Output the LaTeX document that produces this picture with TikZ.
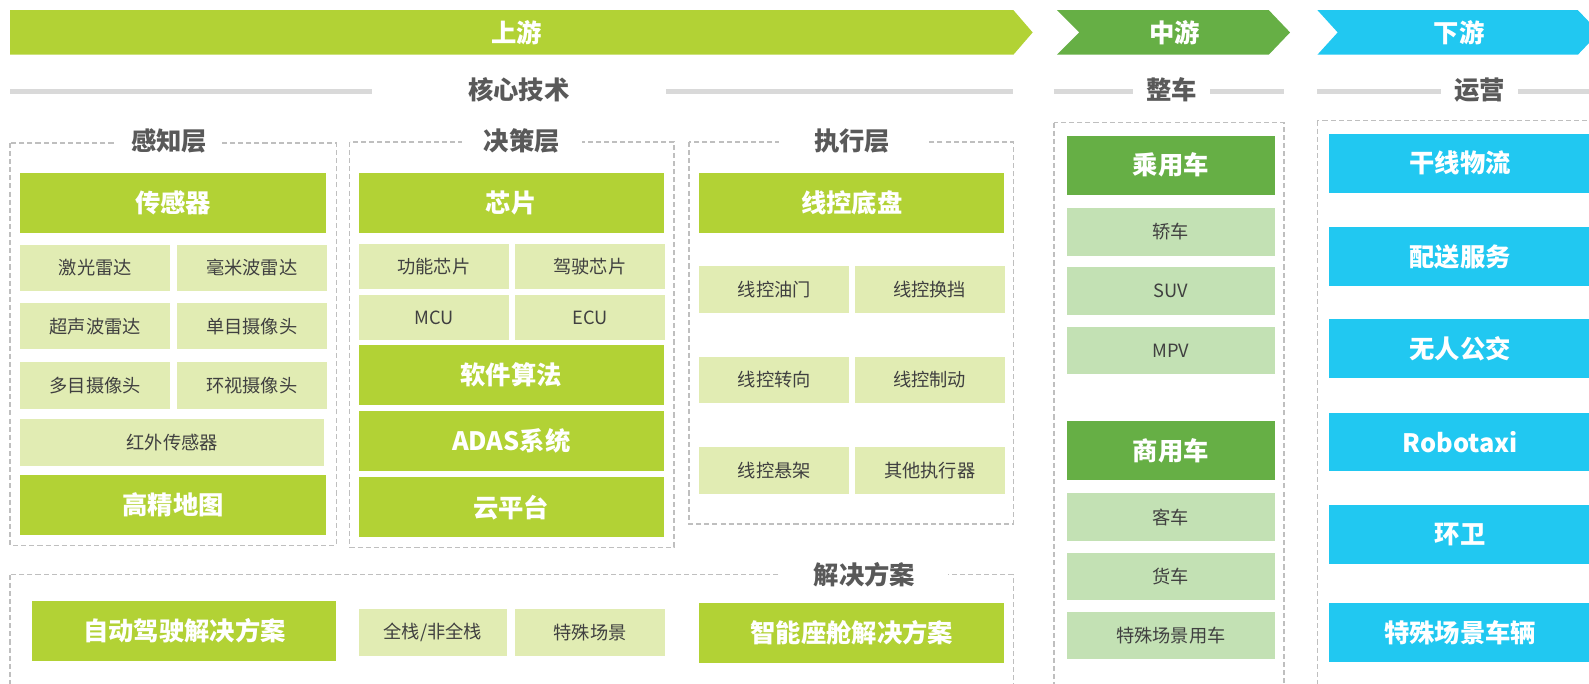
\documentclass[tikz,border=0pt]{standalone}
\usepackage{fontspec}
\setmainfont{Noto Sans CJK SC}
\usetikzlibrary{positioning}
\definecolor{upLime}{HTML}{B2D235}
\definecolor{upPale}{HTML}{E1ECB3}
\definecolor{midGreen}{HTML}{66AF45}
\definecolor{midPale}{HTML}{C3E1B4}
\definecolor{downCyan}{HTML}{21C8F1}
\definecolor{headGray}{HTML}{595959}
\definecolor{itemGray}{HTML}{404040}
\definecolor{frameGray}{HTML}{BFBFBF}
\definecolor{ruleGray}{HTML}{D9D9D9}

\begin{document}
\begin{tikzpicture}[x=1pt, y=-1pt,
  big/.style={font=\bfseries\fontsize{25}{25}\selectfont},
  small/.style={font=\fontsize{18}{18}\selectfont},
  stage/.style={big, text=white, inner sep=0pt},
  head/.style={big, text=headGray, fill=white, inner sep=0pt, inner xsep=15pt, minimum height=30pt},
  frame/.style={draw=frameGray, line width=1.3pt, dash pattern=on 5pt off 3pt},
  rule/.style={draw=ruleGray, line width=5pt},
  bigbox/.style={big, fill=upLime, text=white, inner sep=0pt, minimum width=302pt, minimum height=59pt},
  subbox/.style={small, fill=upPale, text=itemGray, inner sep=0pt, minimum width=148pt, minimum height=46pt},
  decsub/.style={subbox, minimum width=148.5pt, minimum height=45pt},
  carbox/.style={bigbox, fill=midGreen, minimum width=205pt, minimum height=58pt},
  carsub/.style={subbox, fill=midPale, minimum width=205pt, minimum height=47pt},
  opsbox/.style={bigbox, fill=downCyan, minimum width=260pt, minimum height=58pt}]
  \useasboundingbox (0,0) rectangle (1568,674);
  \clip (0,0) rectangle (1568,674);

  \fill[upLime] (10,10) -- (1000,10) -- (1019,32) -- (1000,54) -- (10,54) -- cycle;
  \fill[midGreen] (1043,10) -- (1252,10) -- (1273,32) -- (1252,54) -- (1043,54) -- (1065,32) -- cycle;
  \fill[downCyan] (1300,10) -- (1557,10) -- (1578,32) -- (1557,54) -- (1300,54) -- (1320,32) -- cycle;
  \node[stage] (Up) at (510,32) {上游};
  \node[stage] (Mid) at (1159,32) {中游};
  \node[stage] (Down) at (1440,32) {下游};

  \draw[rule] (10,90) -- (1000,90);
  \draw[rule] (1040,90) -- (1267,90);
  \draw[rule] (1300,90) -- (1568,90);
  \node[head, inner xsep=95pt] (Core) at (512,89) {核心技术};
  \node[head, inner xsep=13pt] (Veh) at (1156,89) {整车};
  \node[head, inner xsep=13pt] (Ops) at (1460,89) {运营};

  \draw[frame] (10,141) rectangle (332,538);
  \draw[frame] (345,140) rectangle (665,540);
  \draw[frame] (680,140) rectangle (1000,517);
  \draw[frame] (10,567) rectangle (1000,700);
  \draw[frame] (1040,121) rectangle (1267,700);
  \draw[frame] (1300,119) rectangle (1600,700);
  \node[head] (Perc) at (167,139) {感知层};
  \node[head, inner xsep=22pt] (Dec) at (515,139) {决策层};
  \node[head, inner xsep=35pt] (Exe) at (841,139) {执行层};
  \node[head, inner xsep=32pt] (Sol) at (853,567) {解决方案};

  \node[bigbox] (Sensor) at (171,200.5) {传感器};
  \node[subbox, below right=11pt and 0pt of Sensor.south west] (Lidar) {激光雷达};
  \node[subbox, right=6pt of Lidar] (Mmw) {毫米波雷达};
  \node[subbox, below=11pt of Lidar] (Usonic) {超声波雷达};
  \node[subbox, right=6pt of Usonic] (Mono) {单目摄像头};
  \node[subbox, below=12pt of Usonic] (Multi) {多目摄像头};
  \node[subbox, right=6pt of Multi] (Surr) {环视摄像头};
  \node[subbox, minimum width=300pt, below right=10pt and 0pt of Multi.south west] (Infra) {红外传感器};
  \node[bigbox, below right=9pt and 0pt of Infra.south west] (HDMap) {高精地图};

  \node[bigbox, minimum width=301pt] (Chip) at (504.5,200.5) {芯片};
  \node[decsub, below right=10pt and 0pt of Chip.south west] (FuncChip) {功能芯片};
  \node[decsub, right=5pt of FuncChip] (DrvChip) {驾驶芯片};
  \node[decsub, below=5pt of FuncChip] (MCU) {MCU};
  \node[decsub, right=5pt of MCU] (ECU) {ECU};
  \node[bigbox, minimum width=301pt, below right=4pt and 0pt of MCU.south west] (Algo) {软件算法};
  \node[bigbox, minimum width=301pt, below=6pt of Algo] (ADAS) {ADAS系统};
  \node[bigbox, minimum width=301pt, below=6pt of ADAS] (Cloud) {云平台};

  \node[bigbox, minimum width=301pt] (Chassis) at (840.5,200.5) {线控底盘};
  \node[subbox, below right=32pt and 0pt of Chassis.south west] (Throttle) {线控油门};
  \node[subbox, right=5pt of Throttle] (Shift) {线控换挡};
  \node[subbox, below=43pt of Throttle] (Steer) {线控转向};
  \node[subbox, right=5pt of Steer] (Brake) {线控制动};
  \node[subbox, below=43pt of Steer] (Susp) {线控悬架};
  \node[subbox, right=5pt of Susp] (OtherAct) {其他执行器};

  \node[bigbox, minimum width=300pt] (ADSol) at (182,622.5) {自动驾驶解决方案};
  \node[subbox, minimum width=146pt] (Stack) at (427,624) {全栈/非全栈};
  \node[subbox, right=8pt of Stack] (Scene) {特殊场景};
  \node[bigbox, minimum width=301pt] (Cabin) at (840.5,624.5) {智能座舱解决方案};

  \node[carbox] (Pass) at (1155.5,163) {乘用车};
  \node[carsub, below=13pt of Pass] (Sedan) {轿车};
  \node[carsub, below=11pt of Sedan] (SUV) {SUV};
  \node[carsub, below=11pt of SUV] (MPV) {MPV};
  \node[carbox] (Comm) at (1155.5,444.5) {商用车};
  \node[carsub, below=13pt of Comm] (Coach) {客车};
  \node[carsub, below=11pt of Coach] (Truck) {货车};
  \node[carsub, below=11pt of Truck] (SpecVeh) {特殊场景用车};

  \node[opsbox] (Trunk) at (1441,161) {干线物流};
  \node[opsbox, below=34pt of Trunk] (Deliv) {配送服务};
  \node[opsbox, below=32pt of Deliv] (Bus) {无人公交};
  \node[opsbox, below=34pt of Bus] (Taxi) {Robotaxi};
  \node[opsbox, below=33pt of Taxi] (Sanit) {环卫};
  \node[opsbox, below=38pt of Sanit] (SpecCar) {特殊场景车辆};
\end{tikzpicture}
\end{document}
